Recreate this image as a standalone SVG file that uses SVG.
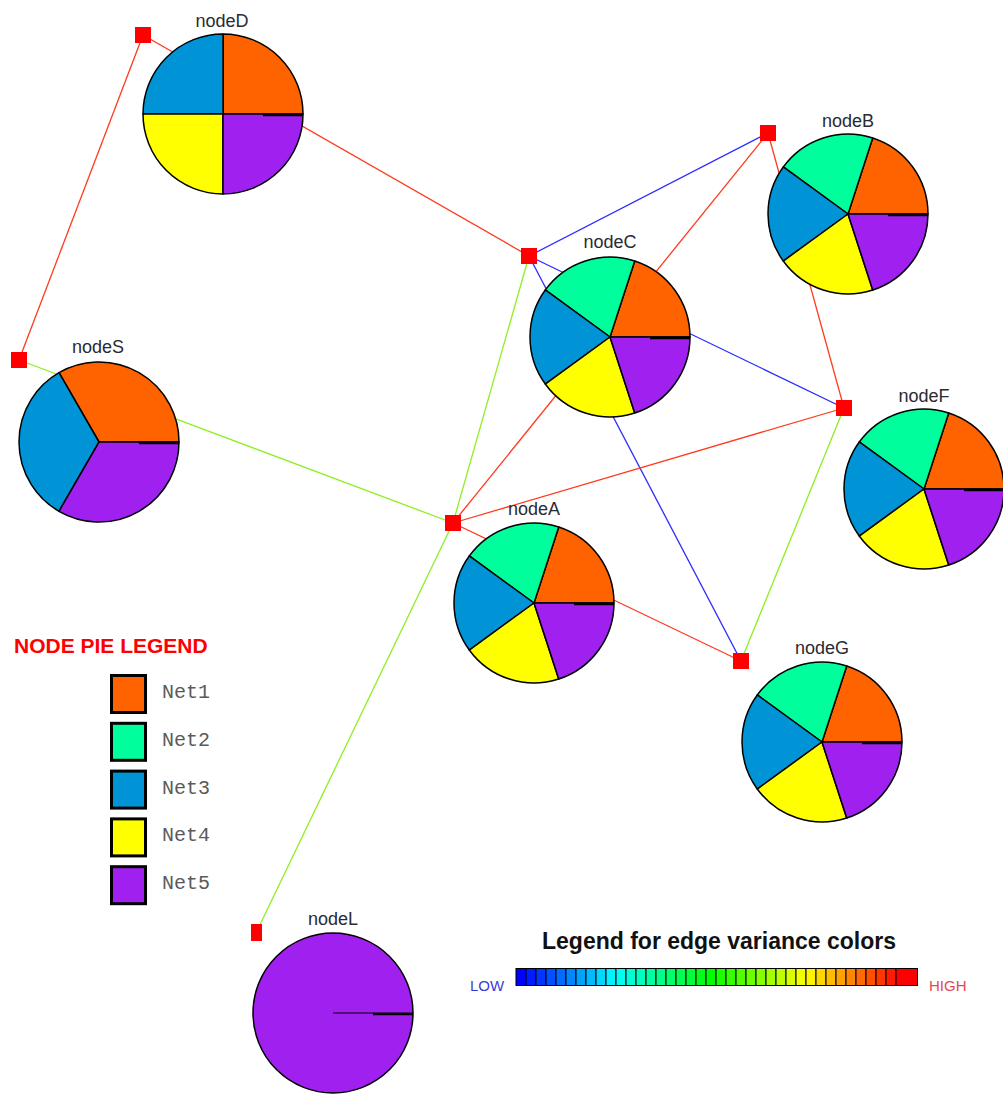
<svg xmlns="http://www.w3.org/2000/svg" xmlns:xlink="http://www.w3.org/1999/xlink" width="1003" height="1095" viewBox="0 0 1003 1095">
<style>
.bg{fill:#ffffff}
.e{fill:none;stroke-width:1.3}
.red{stroke:#ff3a1e}
.blue{stroke:#2b2bff}
.green{stroke:#8eee22}
.sq{fill:#ff0000}
.sl{stroke:#000;stroke-width:1.5;stroke-linejoin:round}
.n1{fill:#ff6300}
.n2{fill:#00ff9c}
.n3{fill:#0094d6}
.n4{fill:#ffff00}
.n5{fill:#a020f0}
.mark{stroke:#000;stroke-width:2.2}
.thin{stroke:#000;stroke-width:1}
.lbl{font-family:"Liberation Sans",Arial,sans-serif;font-size:18px;fill:#2a2a33;text-anchor:middle}
.leg{font-family:"Liberation Mono","Courier New",monospace;font-size:20px;fill:#5a5a5a}
.lsq{stroke:#000;stroke-width:3}
.cell{stroke:#000;stroke-width:1}
</style>
<defs>
<g id="pie5">
<path class="n1 sl" d="M0,0 L80,0 A80,80 0 0,0 24.72,-76.08 Z"/>
<path class="n2 sl" d="M0,0 L24.72,-76.08 A80,80 0 0,0 -64.72,-47.02 Z"/>
<path class="n3 sl" d="M0,0 L-64.72,-47.02 A80,80 0 0,0 -64.72,47.02 Z"/>
<path class="n4 sl" d="M0,0 L-64.72,47.02 A80,80 0 0,0 24.72,76.08 Z"/>
<path class="n5 sl" d="M0,0 L24.72,76.08 A80,80 0 0,0 80,0 Z"/>
<line class="mark" x1="40" y1="1.2" x2="80" y2="1.2"/>
</g>
</defs>
<rect class="bg" x="0" y="0" width="1003" height="1095"/>
<g id="connectors">
<line class="e red" x1="143" y1="35" x2="19" y2="360"/>
<line class="e red" x1="143" y1="35" x2="529" y2="256"/>
<line class="e green" x1="19" y1="360" x2="453" y2="523"/>
<line class="e blue" x1="529" y1="256" x2="768" y2="133"/>
<line class="e blue" x1="529" y1="256" x2="844" y2="408"/>
<line class="e blue" x1="529" y1="256" x2="741" y2="661"/>
<line class="e green" x1="529" y1="256" x2="453" y2="523"/>
<line class="e red" x1="768" y1="133" x2="453" y2="523"/>
<line class="e red" x1="768" y1="133" x2="844" y2="408"/>
<line class="e red" x1="844" y1="408" x2="453" y2="523"/>
<line class="e green" x1="844" y1="408" x2="741" y2="661"/>
<line class="e red" x1="453" y1="523" x2="741" y2="661"/>
<line class="e green" x1="453" y1="523" x2="256" y2="933"/>
</g>
<g id="nodeD">
<rect class="sq" x="135" y="27" width="16" height="16"/>
<g transform="translate(223,114)">
<path class="n1 sl" d="M0,0 L80,0 A80,80 0 0,0 0,-80 Z"/>
<path class="n3 sl" d="M0,0 L0,-80 A80,80 0 0,0 -80,0 Z"/>
<path class="n4 sl" d="M0,0 L-80,0 A80,80 0 0,0 0,80 Z"/>
<path class="n5 sl" d="M0,0 L0,80 A80,80 0 0,0 80,0 Z"/>
<line class="mark" x1="40" y1="1.2" x2="80" y2="1.2"/>
</g>
<text class="lbl" x="222" y="27">nodeD</text>
</g>
<g id="nodeS">
<rect class="sq" x="11" y="352" width="16" height="16"/>
<g transform="translate(99,442)">
<path class="n1 sl" d="M0,0 L80,0 A80,80 0 0,0 -40,-69.28 Z"/>
<path class="n3 sl" d="M0,0 L-40,-69.28 A80,80 0 0,0 -40,69.28 Z"/>
<path class="n5 sl" d="M0,0 L-40,69.28 A80,80 0 0,0 80,0 Z"/>
<line class="mark" x1="40" y1="1.2" x2="80" y2="1.2"/>
</g>
<text class="lbl" x="98" y="353">nodeS</text>
</g>
<g id="nodeC">
<rect class="sq" x="521" y="248" width="16" height="16"/>
<use xlink:href="#pie5" href="#pie5" transform="translate(610,337)"/>
<text class="lbl" x="610" y="248">nodeC</text>
</g>
<g id="nodeB">
<rect class="sq" x="760" y="125" width="16" height="16"/>
<use xlink:href="#pie5" href="#pie5" transform="translate(848,214)"/>
<text class="lbl" x="848" y="127">nodeB</text>
</g>
<g id="nodeF">
<rect class="sq" x="836" y="400" width="16" height="16"/>
<use xlink:href="#pie5" href="#pie5" transform="translate(924,489)"/>
<text class="lbl" x="924" y="402">nodeF</text>
</g>
<g id="nodeA">
<rect class="sq" x="445" y="515" width="16" height="16"/>
<use xlink:href="#pie5" href="#pie5" transform="translate(534,603)"/>
<text class="lbl" x="534" y="515">nodeA</text>
</g>
<g id="nodeG">
<rect class="sq" x="733" y="653" width="16" height="16"/>
<use xlink:href="#pie5" href="#pie5" transform="translate(822,742)"/>
<text class="lbl" x="822" y="654">nodeG</text>
</g>
<g id="nodeL">
<rect class="sq" x="251" y="924" width="11" height="17"/>
<g transform="translate(333,1013)">
<circle class="n5 sl" cx="0" cy="0" r="80"/>
<line class="thin" x1="0" y1="0" x2="80" y2="0"/>
<line class="mark" x1="40" y1="1.2" x2="80" y2="1.2"/>
</g>
<text class="lbl" x="333" y="925">nodeL</text>
</g>
<g id="pieLegend">
<text x="14" y="653" style="font-family:'Liberation Sans',Arial,sans-serif;font-size:21px;font-weight:bold;fill:#ff0000">NODE PIE LEGEND</text>
<rect class="lsq n1" x="111.5" y="675.5" width="34" height="37"/>
<rect class="lsq n2" x="111.5" y="723.3" width="34" height="37"/>
<rect class="lsq n3" x="111.5" y="771.1" width="34" height="37"/>
<rect class="lsq n4" x="111.5" y="818.9" width="34" height="37"/>
<rect class="lsq n5" x="111.5" y="866.7" width="34" height="37"/>
<text class="leg" x="162" y="698">Net1</text>
<text class="leg" x="162" y="746">Net2</text>
<text class="leg" x="162" y="794">Net3</text>
<text class="leg" x="162" y="841">Net4</text>
<text class="leg" x="162" y="889">Net5</text>
</g>
<g id="edgeLegend">
<text x="542" y="949" style="font-family:'Liberation Sans',Arial,sans-serif;font-size:23px;font-weight:bold;fill:#111">Legend for edge variance colors</text>
<text x="470" y="991" style="font-family:'Liberation Sans',Arial,sans-serif;font-size:15px;fill:#3b3bdc">LOW</text>
<text x="929" y="991" style="font-family:'Liberation Sans',Arial,sans-serif;font-size:15px;fill:#e04858">HIGH</text>
<g class="cell">
<rect x="516" y="968.5" width="10" height="17" fill="#0000ff"/>
<rect x="526" y="968.5" width="10" height="17" fill="#001bff"/>
<rect x="536" y="968.5" width="10" height="17" fill="#0036ff"/>
<rect x="546" y="968.5" width="10" height="17" fill="#0051ff"/>
<rect x="556" y="968.5" width="10" height="17" fill="#006bff"/>
<rect x="566" y="968.5" width="10" height="17" fill="#0086ff"/>
<rect x="576" y="968.5" width="10" height="17" fill="#00a1ff"/>
<rect x="586" y="968.5" width="10" height="17" fill="#00bcff"/>
<rect x="596" y="968.5" width="10" height="17" fill="#00d7ff"/>
<rect x="606" y="968.5" width="10" height="17" fill="#00f2ff"/>
<rect x="616" y="968.5" width="10" height="17" fill="#00fff2"/>
<rect x="626" y="968.5" width="10" height="17" fill="#00ffd7"/>
<rect x="636" y="968.5" width="10" height="17" fill="#00ffbc"/>
<rect x="646" y="968.5" width="10" height="17" fill="#00ffa1"/>
<rect x="656" y="968.5" width="10" height="17" fill="#00ff86"/>
<rect x="666" y="968.5" width="10" height="17" fill="#00ff6b"/>
<rect x="676" y="968.5" width="10" height="17" fill="#00ff51"/>
<rect x="686" y="968.5" width="10" height="17" fill="#00ff36"/>
<rect x="696" y="968.5" width="10" height="17" fill="#00ff1b"/>
<rect x="706" y="968.5" width="10" height="17" fill="#00ff00"/>
<rect x="716" y="968.5" width="10" height="17" fill="#1bff00"/>
<rect x="726" y="968.5" width="10" height="17" fill="#36ff00"/>
<rect x="736" y="968.5" width="10" height="17" fill="#51ff00"/>
<rect x="746" y="968.5" width="10" height="17" fill="#6bff00"/>
<rect x="756" y="968.5" width="10" height="17" fill="#86ff00"/>
<rect x="766" y="968.5" width="10" height="17" fill="#a1ff00"/>
<rect x="776" y="968.5" width="10" height="17" fill="#bcff00"/>
<rect x="786" y="968.5" width="10" height="17" fill="#d7ff00"/>
<rect x="796" y="968.5" width="10" height="17" fill="#f2ff00"/>
<rect x="806" y="968.5" width="10" height="17" fill="#fff200"/>
<rect x="816" y="968.5" width="10" height="17" fill="#ffd700"/>
<rect x="826" y="968.5" width="10" height="17" fill="#ffbc00"/>
<rect x="836" y="968.5" width="10" height="17" fill="#ffa100"/>
<rect x="846" y="968.5" width="10" height="17" fill="#ff8600"/>
<rect x="856" y="968.5" width="10" height="17" fill="#ff6b00"/>
<rect x="866" y="968.5" width="10" height="17" fill="#ff5100"/>
<rect x="876" y="968.5" width="10" height="17" fill="#ff3600"/>
<rect x="886" y="968.5" width="10" height="17" fill="#ff1b00"/>
<rect x="896" y="968.5" width="21.5" height="17" fill="#ff0000"/>
</g>
</g>
</svg>
